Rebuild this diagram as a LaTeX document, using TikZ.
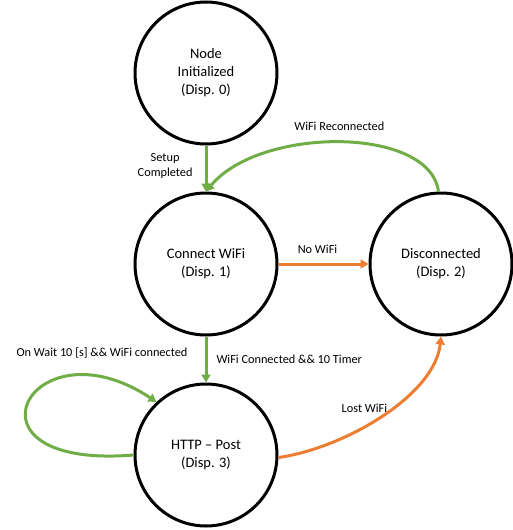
\documentclass[tikz,border=0pt]{standalone}
\usepackage{fontspec}
\setmainfont{Carlito}
\usetikzlibrary{positioning,arrows.meta}
\definecolor{wifigreen}{RGB}{112,173,71}
\definecolor{wifiorange}{RGB}{237,125,49}

\begin{document}
\begin{tikzpicture}[
    x=1pt, y=1pt,
    node distance=46pt,
    state/.style={circle, draw, line width=3pt, minimum size=142pt, align=center, font=\fontsize{14.5}{18}\selectfont},
    trans/.style={line width=3pt, -{Triangle[length=8pt,width=9pt]}},
    good/.style={trans, color=wifigreen},
    bad/.style={trans, color=wifiorange},
    lbl/.style={text=black, inner sep=1pt, align=center, font=\fontsize{12.3}{15}\selectfont}
]
    \useasboundingbox (0,0) rectangle (513,-530);

    % States
    \node[state] (init) at (206,-73) {Node\\Initialized\\(Disp. 0)};
    \node[state, below=of init] (conn) {Connect WiFi\\(Disp. 1)};
    \node[state, right=90pt of conn] (disc) {Disconnected\\(Disp. 2)};
    \node[state, below=of conn] (http) {HTTP -- Post\\(Disp. 3)};

    % Transitions
    \draw[good] (init) -- node[lbl, left=11pt, yshift=3pt] (setup) {Setup\\Completed} (conn);
    \draw[good] (disc.92) .. controls (430,-126) and (260,-126) .. node[lbl, above=9pt] (recon) {WiFi Reconnected} (conn.north);
    \draw[bad] (conn) -- node[lbl, above=8pt, xshift=-6pt] (nowifi) {No WiFi} (disc);
    \draw[good] (conn) -- node[lbl, right=8pt] (timer) {WiFi Connected \&\& 10 Timer} (http);
    \draw[good] (http.west) .. controls (-50,-470) and (30,-318) .. node[lbl, pos=0.8, above=16pt, xshift=14pt] (wait) {On Wait 10 [s] \&\& WiFi connected} (http.133);
    \draw[bad] (http.-2) .. controls (345,-448) and (435,-395) .. node[lbl, pos=0.55, left=2pt] (lost) {Lost WiFi} (disc.south);
\end{tikzpicture}
\end{document}
